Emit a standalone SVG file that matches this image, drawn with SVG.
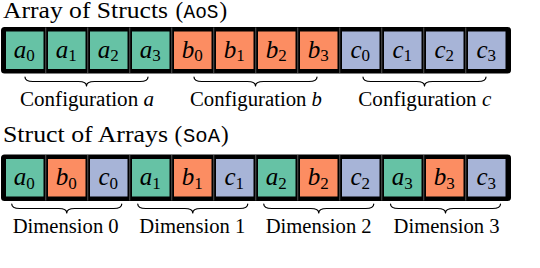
<svg xmlns="http://www.w3.org/2000/svg" width="540" height="268" viewBox="0 0 540 268">
<style>
.bg{fill:#ffffff}
.bar{fill:#000000}
.ca{fill:#66c2a5}
.cb{fill:#fc8d62}
.cc{fill:#a7b4d7}
.seam{stroke:#7a7a7a;stroke-width:0.7}
.v{font-family:"Liberation Serif","Times New Roman",serif;font-size:25px;font-style:italic;fill:#000;text-anchor:middle}
.s{font-size:17px;font-style:normal}
.t{font-family:"Liberation Serif","Times New Roman",serif;font-size:23px;fill:#000}
.m{font-family:"Liberation Mono","Courier New",monospace;font-size:21px;fill:#000}
.l{font-family:"Liberation Serif","Times New Roman",serif;font-size:20px;fill:#000}
.i{font-style:italic}
.br{fill:none;stroke:#000;stroke-width:1.2;stroke-linejoin:round;stroke-linecap:round}
</style>
<rect class="bg" x="0" y="0" width="540" height="268"/>

<g id="title-aos">
<text class="t" x="3" y="18" textLength="165" lengthAdjust="spacingAndGlyphs">Array of Structs</text>
<text class="t" x="175.5" y="18">(</text>
<text class="m" x="183.5" y="18" textLength="35" lengthAdjust="spacingAndGlyphs">AoS</text>
<text class="t" x="219.5" y="18">)</text>
</g>

<g id="aos-bar">
<rect class="bar" x="1" y="27" width="510" height="46.5" rx="3.5"/>
<g class="seam">
<line x1="45.75" y1="27.5" x2="45.75" y2="73"/><line x1="87.75" y1="27.5" x2="87.75" y2="73"/><line x1="129.75" y1="27.5" x2="129.75" y2="73"/><line x1="171.75" y1="27.5" x2="171.75" y2="73"/><line x1="213.75" y1="27.5" x2="213.75" y2="73"/><line x1="255.75" y1="27.5" x2="255.75" y2="73"/><line x1="297.75" y1="27.5" x2="297.75" y2="73"/><line x1="339.75" y1="27.5" x2="339.75" y2="73"/><line x1="381.75" y1="27.5" x2="381.75" y2="73"/><line x1="423.75" y1="27.5" x2="423.75" y2="73"/><line x1="465.75" y1="27.5" x2="465.75" y2="73"/>
</g>
</g>
<g id="aos-a0"><rect class="ca" x="6" y="31.5" width="37.5" height="37.5"/><text class="v" x="24.25" y="57.5">a<tspan class="s" dy="3.5">0</tspan></text></g>
<g id="aos-a1"><rect class="ca" x="48" y="31.5" width="37.5" height="37.5"/><text class="v" x="66.25" y="57.5">a<tspan class="s" dy="3.5">1</tspan></text></g>
<g id="aos-a2"><rect class="ca" x="90" y="31.5" width="37.5" height="37.5"/><text class="v" x="108.25" y="57.5">a<tspan class="s" dy="3.5">2</tspan></text></g>
<g id="aos-a3"><rect class="ca" x="132" y="31.5" width="37.5" height="37.5"/><text class="v" x="150.25" y="57.5">a<tspan class="s" dy="3.5">3</tspan></text></g>
<g id="aos-b0"><rect class="cb" x="174" y="31.5" width="37.5" height="37.5"/><text class="v" x="192.25" y="57.5">b<tspan class="s" dy="3.5">0</tspan></text></g>
<g id="aos-b1"><rect class="cb" x="216" y="31.5" width="37.5" height="37.5"/><text class="v" x="234.25" y="57.5">b<tspan class="s" dy="3.5">1</tspan></text></g>
<g id="aos-b2"><rect class="cb" x="258" y="31.5" width="37.5" height="37.5"/><text class="v" x="276.25" y="57.5">b<tspan class="s" dy="3.5">2</tspan></text></g>
<g id="aos-b3"><rect class="cb" x="300" y="31.5" width="37.5" height="37.5"/><text class="v" x="318.25" y="57.5">b<tspan class="s" dy="3.5">3</tspan></text></g>
<g id="aos-c0"><rect class="cc" x="342" y="31.5" width="37.5" height="37.5"/><text class="v" x="360.25" y="57.5">c<tspan class="s" dy="3.5">0</tspan></text></g>
<g id="aos-c1"><rect class="cc" x="384" y="31.5" width="37.5" height="37.5"/><text class="v" x="402.25" y="57.5">c<tspan class="s" dy="3.5">1</tspan></text></g>
<g id="aos-c2"><rect class="cc" x="426" y="31.5" width="37.5" height="37.5"/><text class="v" x="444.25" y="57.5">c<tspan class="s" dy="3.5">2</tspan></text></g>
<g id="aos-c3"><rect class="cc" x="468" y="31.5" width="37.5" height="37.5"/><text class="v" x="486.25" y="57.5">c<tspan class="s" dy="3.5">3</tspan></text></g>

<g id="braces">
<path class="br" d="M25,77 Q25,81.5 33,81.5 L78.5,81.5 Q86.5,81.5 86.5,86 Q86.5,81.5 94.5,81.5 L140,81.5 Q148,81.5 148,77"/>
<path class="br" d="M194,77 Q194,81.5 202,81.5 L247.5,81.5 Q255.5,81.5 255.5,86 Q255.5,81.5 263.5,81.5 L309,81.5 Q317,81.5 317,77"/>
<path class="br" d="M363,77 Q363,81.5 371,81.5 L416.5,81.5 Q424.5,81.5 424.5,86 Q424.5,81.5 432.5,81.5 L478,81.5 Q486,81.5 486,77"/>
<path class="br" d="M11.75,204 Q11.75,208.5 19.75,208.5 L58.75,208.5 Q66.75,208.5 66.75,213 Q66.75,208.5 74.75,208.5 L113.75,208.5 Q121.75,208.5 121.75,204"/>
<path class="br" d="M137.75,204 Q137.75,208.5 145.75,208.5 L184.75,208.5 Q192.75,208.5 192.75,213 Q192.75,208.5 200.75,208.5 L239.75,208.5 Q247.75,208.5 247.75,204"/>
<path class="br" d="M263.75,204 Q263.75,208.5 271.75,208.5 L310.75,208.5 Q318.75,208.5 318.75,213 Q318.75,208.5 326.75,208.5 L365.75,208.5 Q373.75,208.5 373.75,204"/>
<path class="br" d="M390.5,204 Q390.5,208.5 398.5,208.5 L437.5,208.5 Q445.5,208.5 445.5,213 Q445.5,208.5 453.5,208.5 L492.5,208.5 Q500.5,208.5 500.5,204"/>
</g>

<g id="label-config-a"><text class="l" x="20" y="106" textLength="134" lengthAdjust="spacingAndGlyphs">Configuration <tspan class="i">a</tspan></text></g>
<g id="label-config-b"><text class="l" x="190" y="106" textLength="132" lengthAdjust="spacingAndGlyphs">Configuration <tspan class="i">b</tspan></text></g>
<g id="label-config-c"><text class="l" x="358.3" y="106" textLength="133" lengthAdjust="spacingAndGlyphs">Configuration <tspan class="i">c</tspan></text></g>

<g id="title-soa">
<text class="t" x="3" y="141.5" textLength="165" lengthAdjust="spacingAndGlyphs">Struct of Arrays</text>
<text class="t" x="174.5" y="141.5">(</text>
<text class="m" x="183" y="141.5" textLength="37" lengthAdjust="spacingAndGlyphs">SoA</text>
<text class="t" x="221" y="141.5">)</text>
</g>

<g id="soa-bar">
<rect class="bar" x="1" y="154.5" width="510" height="46.5" rx="3.5"/>
<g class="seam">
<line x1="45.75" y1="155" x2="45.75" y2="200.5"/><line x1="87.75" y1="155" x2="87.75" y2="200.5"/><line x1="129.75" y1="155" x2="129.75" y2="200.5"/><line x1="171.75" y1="155" x2="171.75" y2="200.5"/><line x1="213.75" y1="155" x2="213.75" y2="200.5"/><line x1="255.75" y1="155" x2="255.75" y2="200.5"/><line x1="297.75" y1="155" x2="297.75" y2="200.5"/><line x1="339.75" y1="155" x2="339.75" y2="200.5"/><line x1="381.75" y1="155" x2="381.75" y2="200.5"/><line x1="423.75" y1="155" x2="423.75" y2="200.5"/><line x1="465.75" y1="155" x2="465.75" y2="200.5"/>
</g>
</g>
<g id="soa-a0"><rect class="ca" x="6" y="159" width="37.5" height="37.5"/><text class="v" x="24.25" y="185">a<tspan class="s" dy="3.5">0</tspan></text></g>
<g id="soa-b0"><rect class="cb" x="48" y="159" width="37.5" height="37.5"/><text class="v" x="66.25" y="185">b<tspan class="s" dy="3.5">0</tspan></text></g>
<g id="soa-c0"><rect class="cc" x="90" y="159" width="37.5" height="37.5"/><text class="v" x="108.25" y="185">c<tspan class="s" dy="3.5">0</tspan></text></g>
<g id="soa-a1"><rect class="ca" x="132" y="159" width="37.5" height="37.5"/><text class="v" x="150.25" y="185">a<tspan class="s" dy="3.5">1</tspan></text></g>
<g id="soa-b1"><rect class="cb" x="174" y="159" width="37.5" height="37.5"/><text class="v" x="192.25" y="185">b<tspan class="s" dy="3.5">1</tspan></text></g>
<g id="soa-c1"><rect class="cc" x="216" y="159" width="37.5" height="37.5"/><text class="v" x="234.25" y="185">c<tspan class="s" dy="3.5">1</tspan></text></g>
<g id="soa-a2"><rect class="ca" x="258" y="159" width="37.5" height="37.5"/><text class="v" x="276.25" y="185">a<tspan class="s" dy="3.5">2</tspan></text></g>
<g id="soa-b2"><rect class="cb" x="300" y="159" width="37.5" height="37.5"/><text class="v" x="318.25" y="185">b<tspan class="s" dy="3.5">2</tspan></text></g>
<g id="soa-c2"><rect class="cc" x="342" y="159" width="37.5" height="37.5"/><text class="v" x="360.25" y="185">c<tspan class="s" dy="3.5">2</tspan></text></g>
<g id="soa-a3"><rect class="ca" x="384" y="159" width="37.5" height="37.5"/><text class="v" x="402.25" y="185">a<tspan class="s" dy="3.5">3</tspan></text></g>
<g id="soa-b3"><rect class="cb" x="426" y="159" width="37.5" height="37.5"/><text class="v" x="444.25" y="185">b<tspan class="s" dy="3.5">3</tspan></text></g>
<g id="soa-c3"><rect class="cc" x="468" y="159" width="37.5" height="37.5"/><text class="v" x="486.25" y="185">c<tspan class="s" dy="3.5">3</tspan></text></g>

<g id="label-dim-0"><text class="l" x="12.7" y="233" textLength="106" lengthAdjust="spacingAndGlyphs">Dimension 0</text></g>
<g id="label-dim-1"><text class="l" x="139.3" y="233" textLength="106" lengthAdjust="spacingAndGlyphs">Dimension 1</text></g>
<g id="label-dim-2"><text class="l" x="265.7" y="233" textLength="106" lengthAdjust="spacingAndGlyphs">Dimension 2</text></g>
<g id="label-dim-3"><text class="l" x="393.5" y="233" textLength="106" lengthAdjust="spacingAndGlyphs">Dimension 3</text></g>
</svg>
